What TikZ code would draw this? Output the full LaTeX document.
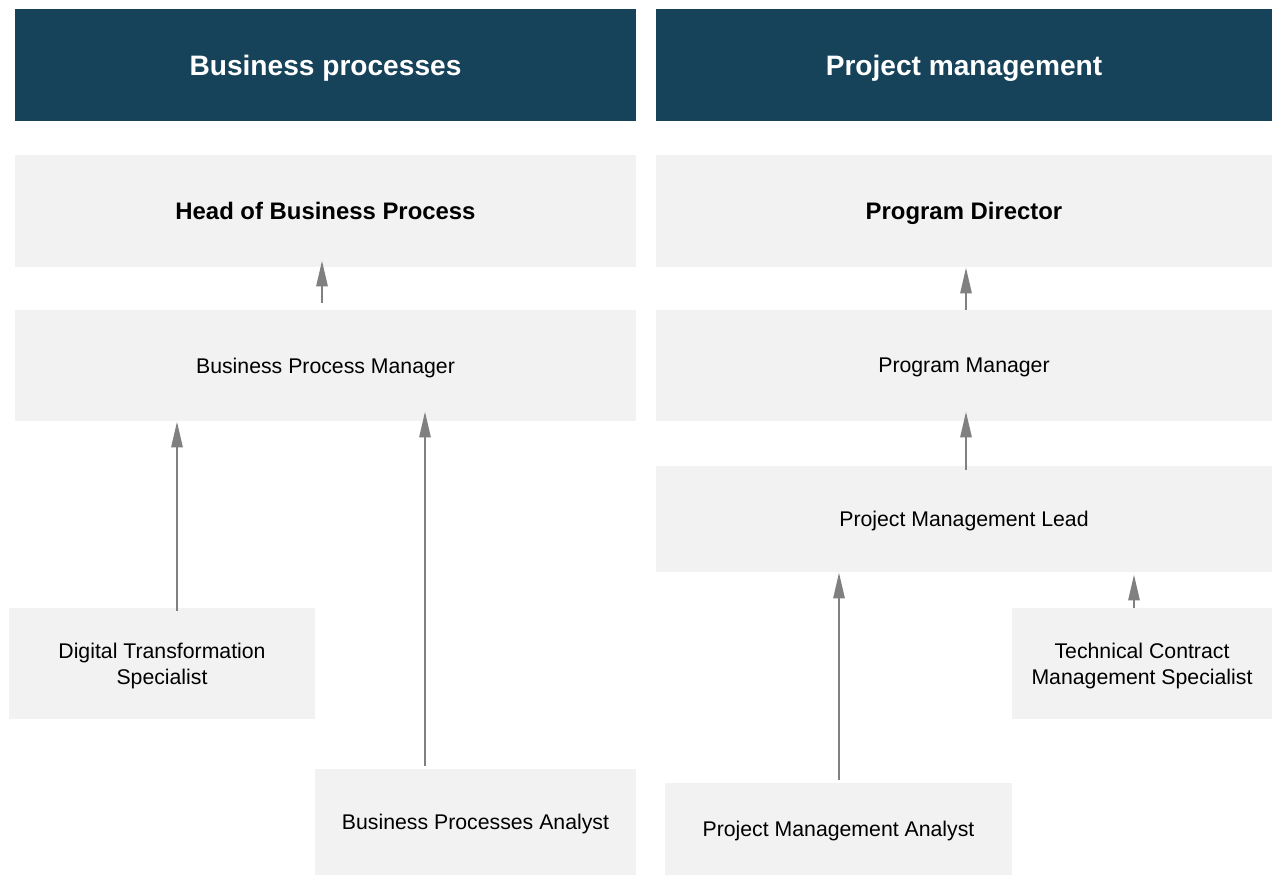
\documentclass[tikz,border=0pt]{standalone}
\usepackage{fontspec}
\setmainfont{Liberation Sans}
\usepackage{xcolor}
\usetikzlibrary{arrows.meta,calc}
\definecolor{HeadBg}{HTML}{16425A}
\definecolor{BoxBg}{HTML}{F2F2F2}
\definecolor{ArrGray}{HTML}{808080}

\begin{document}
\begin{tikzpicture}[
  x=0.02cm, y=-0.02cm,
  every node/.style={font=\fontsize{12.1}{14.6}\selectfont, text depth=0pt},
  hd/.style={rectangle, fill=HeadBg, text=white, align=center, inner sep=0pt,
             minimum height=2.24cm, font=\fontsize{16}{19}\selectfont\bfseries},
  bx/.style={rectangle, fill=BoxBg, align=center, inner sep=0pt},
  top/.style={font=\fontsize{13.6}{16}\selectfont\bfseries},
  arr/.style={-{Triangle[length=0.52cm,width=0.22cm]}, line width=1.6pt, draw=ArrGray},
]
\useasboundingbox (0,0) rectangle (1272,875);
% column headers
\node[hd, minimum width=12.42cm] (hbus) at (325.5, 65) {Business processes};
\node[hd, minimum width=12.32cm] (hprj) at (964, 65) {Project management};
% business processes
\node[bx, top, minimum width=12.42cm, minimum height=2.24cm] (hbp) at (325.5, 211) {Head of Business Process};
\node[bx, minimum width=12.42cm, minimum height=2.22cm] (bpm) at (325.5, 365.5) {Business Process Manager};
\node[bx, minimum width=6.12cm, minimum height=2.22cm] (dts) at (162, 663.5) {Digital Transformation\\Specialist};
\node[bx, minimum width=6.42cm, minimum height=2.12cm] (bpa) at (475.5, 822) {Business Processes Analyst};
% project management
\node[bx, top, minimum width=12.32cm, minimum height=2.24cm] (pd) at (964, 211) {Program Director};
\node[bx, minimum width=12.32cm, minimum height=2.22cm] (pm) at (964, 365.5) {Program Manager};
\node[bx, minimum width=12.32cm, minimum height=2.12cm] (pml) at (964, 519) {Project Management Lead};
\node[bx, minimum width=5.2cm, minimum height=2.22cm] (tcms) at (1142, 663.5) {Technical Contract\\Management Specialist};
\node[bx, minimum width=6.94cm, minimum height=1.84cm] (pma) at (838.5, 829) {Project Management Analyst};
% reporting lines
\draw[arr] ($(bpm.north -| 322,0)+(0,-7)$) -- ($(hbp.south -| 322,0)+(0,-7)$);
\draw[arr] ($(dts.north -| 177,0)+(0,3)$) -- (bpm.south -| 177,0);
\draw[arr] ($(bpa.north -| 425,0)+(0,-3)$) -- ($(bpm.south -| 425,0)+(0,-10)$);
\draw[arr] (pm.north -| 966,0) -- (pd.south -| 966,0);
\draw[arr] ($(pml.north -| 966,0)+(0,4)$) -- ($(pm.south -| 966,0)+(0,-10)$);
\draw[arr] ($(pma.north -| 839,0)+(0,-3)$) -- (pml.south -| 839,0);
\draw[arr] (tcms.north -| 1134,0) -- ($(pml.south -| 1134,0)+(0,2)$);
\end{tikzpicture}
\end{document}
